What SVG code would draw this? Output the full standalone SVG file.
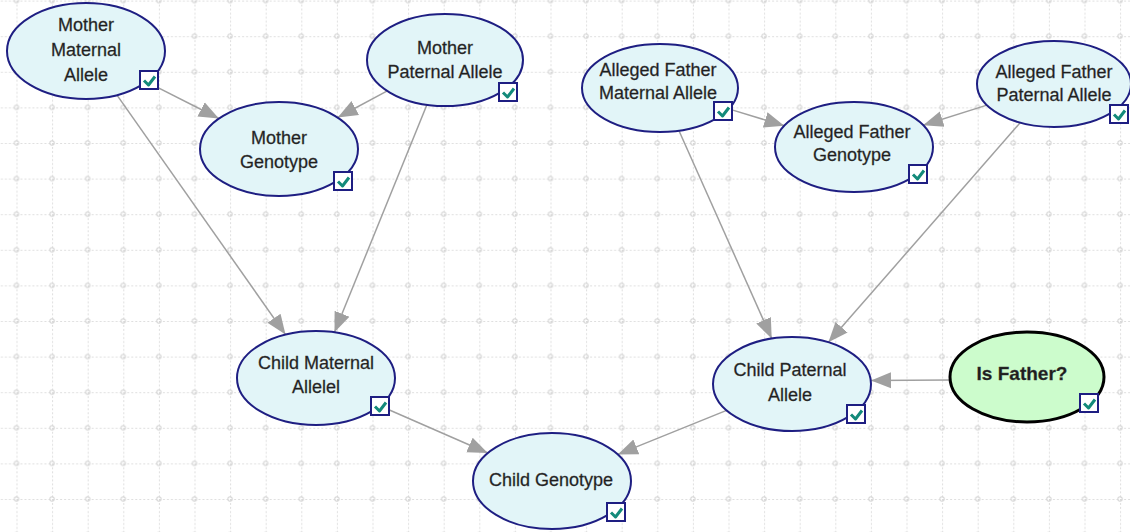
<svg xmlns="http://www.w3.org/2000/svg" xmlns:xlink="http://www.w3.org/1999/xlink" width="1130" height="532" viewBox="0 0 1130 532">
<style>
.n{fill:#e2f5f8;stroke:#1e1e82;stroke-width:2}
.g{fill:#ccfccc;stroke:#000;stroke-width:3}
.t{font-family:"Liberation Sans",Arial,sans-serif;font-size:18px;fill:#1e1e1e;stroke:#3a3a3a;stroke-width:0.3;text-anchor:middle}
.b{font-weight:bold;font-size:19px}
.e{stroke:#a0a0a0;stroke-width:1.5;fill:none;marker-end:url(#a)}
</style>
<defs>
<pattern id="grid" patternUnits="userSpaceOnUse" x="16.5" y="0.6" width="35.6" height="35.6">
<path d="M0,0 V35.6 M0,0 H35.6" stroke="#d4d4d4" stroke-width="1.5" stroke-dasharray="2,2"/>
<circle cx="0" cy="0" r="2.2" fill="none" stroke="#d4d4d4" stroke-width="1"/>
<circle cx="35.6" cy="0" r="2.2" fill="none" stroke="#d4d4d4" stroke-width="1"/>
<circle cx="0" cy="35.6" r="2.2" fill="none" stroke="#d4d4d4" stroke-width="1"/>
<circle cx="35.6" cy="35.6" r="2.2" fill="none" stroke="#d4d4d4" stroke-width="1"/>
</pattern>
<marker id="a" markerUnits="userSpaceOnUse" markerWidth="22" markerHeight="18" refX="20" refY="9" orient="auto">
<path d="M0,1 L20,9 L0,17 z" fill="#a0a0a0"/>
</marker>
<g id="cb">
<rect x="0" y="0" width="18" height="18" fill="#fff" stroke="#1e1e82" stroke-width="2"/>
<path d="M4,9.5 L8.5,14 L15,5.5" fill="none" stroke="#138a7a" stroke-width="3" stroke-linejoin="round"/>
</g>
</defs>
<rect width="1130" height="532" fill="#fff"/>
<rect width="1130" height="532" fill="url(#grid)"/>
<g id="connectors">
<line class="e" x1="146.6" y1="81.8" x2="218.9" y2="118.5"/>
<line class="e" x1="387.3" y1="90.9" x2="337.7" y2="117.5"/>
<line class="e" x1="117" y1="95.1" x2="285.5" y2="334.6"/>
<line class="e" x1="426.9" y1="104.7" x2="334.5" y2="332.3"/>
<line class="e" x1="728.7" y1="108.9" x2="784.3" y2="125.8"/>
<line class="e" x1="986.9" y1="105.1" x2="923.1" y2="125.2"/>
<line class="e" x1="679" y1="130.7" x2="771.7" y2="338.6"/>
<line class="e" x1="1020.3" y1="122.6" x2="828.4" y2="342.3"/>
<line class="e" x1="950" y1="380" x2="871" y2="380.5"/>
<line class="e" x1="379.7" y1="405.8" x2="487.8" y2="453"/>
<line class="e" x1="726.6" y1="410.4" x2="617.8" y2="454.4"/>
</g>
<g id="mother-maternal-allele">
<ellipse class="n" cx="86" cy="51" rx="79" ry="48"/>
<text class="t" x="86" y="31">Mother</text>
<text class="t" x="86" y="56">Maternal</text>
<text class="t" x="86" y="81">Allele</text>
<use xlink:href="#cb" x="140" y="71"/>
</g>
<g id="mother-paternal-allele">
<ellipse class="n" cx="445" cy="60" rx="78" ry="46"/>
<text class="t" x="445" y="54">Mother</text>
<text class="t" x="445" y="78">Paternal Allele</text>
<use xlink:href="#cb" x="499" y="83"/>
</g>
<g id="mother-genotype">
<ellipse class="n" cx="279" cy="149" rx="79" ry="47"/>
<text class="t" x="279" y="144">Mother</text>
<text class="t" x="279" y="168">Genotype</text>
<use xlink:href="#cb" x="334" y="172"/>
</g>
<g id="alleged-father-maternal-allele">
<ellipse class="n" cx="660" cy="88" rx="78" ry="44"/>
<text class="t" x="658" y="76">Alleged Father</text>
<text class="t" x="658" y="99">Maternal Allele</text>
<use xlink:href="#cb" x="714" y="102"/>
</g>
<g id="alleged-father-paternal-allele">
<ellipse class="n" cx="1054" cy="84" rx="77" ry="43"/>
<text class="t" x="1054" y="78">Alleged Father</text>
<text class="t" x="1054" y="101">Paternal Allele</text>
<use xlink:href="#cb" x="1110" y="105"/>
</g>
<g id="alleged-father-genotype">
<ellipse class="n" cx="854" cy="147" rx="79" ry="45"/>
<text class="t" x="852" y="138">Alleged Father</text>
<text class="t" x="852" y="161">Genotype</text>
<use xlink:href="#cb" x="909" y="165"/>
</g>
<g id="child-maternal-allele">
<ellipse class="n" cx="316" cy="378" rx="79" ry="47"/>
<text class="t" x="316" y="369">Child Maternal</text>
<text class="t" x="316" y="393">Allelel</text>
<use xlink:href="#cb" x="371" y="397"/>
</g>
<g id="child-paternal-allele">
<ellipse class="n" cx="792" cy="384" rx="79" ry="47"/>
<text class="t" x="790" y="376">Child Paternal</text>
<text class="t" x="790" y="401">Allele</text>
<use xlink:href="#cb" x="847" y="405"/>
</g>
<g id="child-genotype">
<ellipse class="n" cx="552" cy="481" rx="79" ry="48"/>
<text class="t" x="551" y="486">Child Genotype</text>
<use xlink:href="#cb" x="607" y="503"/>
</g>
<g id="is-father">
<ellipse class="g" cx="1027" cy="377" rx="77" ry="45"/>
<text class="t b" x="1022" y="380">Is Father?</text>
<use xlink:href="#cb" x="1080" y="394"/>
</g>
</svg>
